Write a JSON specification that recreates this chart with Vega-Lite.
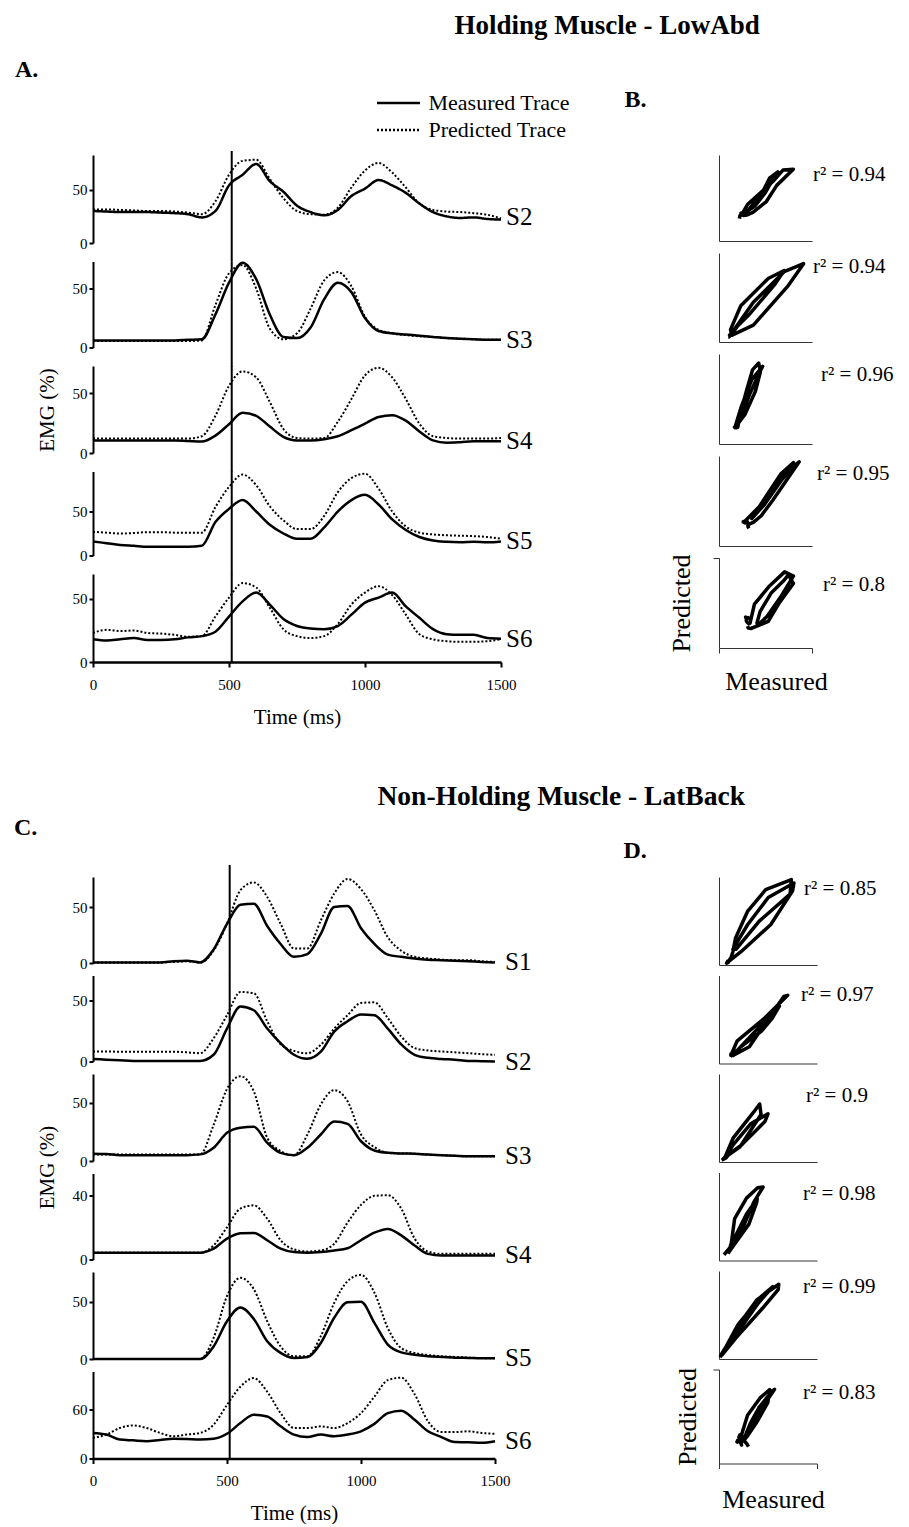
{
"$schema": "https://vega.github.io/schema/vega-lite/v6.json",
"background": "white",
"padding": {"left": 14, "top": 12, "right": 0, "bottom": 0},
"config": {
  "font": "Liberation Serif",
  "view": {"stroke": null},
  "axis": {"grid": false, "domainColor": "black", "tickColor": "black", "labelColor": "black", "titleColor": "black", "labelFontSize": 15, "titleFontSize": 21, "titleFontWeight": "normal", "domainWidth": 2, "tickWidth": 2, "tickSize": 4, "labelPadding": 2},
  "legend": {"labelFontSize": 22, "labelColor": "black", "symbolType": "M-2,0H2", "symbolSize": 462, "symbolStrokeWidth": 2.5, "symbolStrokeColor": "black", "rowPadding": 4, "labelOffset": 18, "padding": 0, "labelLimit": 400},
  "title": {"color": "black"},
  "text": {"color": "black"}
},
"datasets": {"tr": [
{"g":"A","s":"S2","t":0,"M":30,"P":31.5},{"g":"A","s":"S2","t":50,"M":29.5,"P":31.5},{"g":"A","s":"S2","t":100,"M":29,"P":31},{"g":"A","s":"S2","t":150,"M":29,"P":30.5},{"g":"A","s":"S2","t":200,"M":29,"P":30},{"g":"A","s":"S2","t":250,"M":28.5,"P":30},{"g":"A","s":"S2","t":300,"M":28,"P":29.5},{"g":"A","s":"S2","t":350,"M":27,"P":28.5},{"g":"A","s":"S2","t":400,"M":24,"P":27},{"g":"A","s":"S2","t":450,"M":30,"P":39},{"g":"A","s":"S2","t":500,"M":54,"P":64},{"g":"A","s":"S2","t":550,"M":64,"P":77},{"g":"A","s":"S2","t":600,"M":74,"P":78},{"g":"A","s":"S2","t":650,"M":58,"P":60},{"g":"A","s":"S2","t":700,"M":48,"P":42},{"g":"A","s":"S2","t":750,"M":35,"P":30},{"g":"A","s":"S2","t":800,"M":29,"P":27},{"g":"A","s":"S2","t":850,"M":26,"P":26.5},{"g":"A","s":"S2","t":900,"M":31,"P":33},{"g":"A","s":"S2","t":950,"M":44,"P":52},{"g":"A","s":"S2","t":1000,"M":51,"P":68},{"g":"A","s":"S2","t":1050,"M":59,"P":75},{"g":"A","s":"S2","t":1100,"M":54,"P":66},{"g":"A","s":"S2","t":1150,"M":47,"P":52},{"g":"A","s":"S2","t":1200,"M":37,"P":37},{"g":"A","s":"S2","t":1250,"M":29,"P":31},{"g":"A","s":"S2","t":1300,"M":25,"P":29.5},{"g":"A","s":"S2","t":1350,"M":23.5,"P":29},{"g":"A","s":"S2","t":1400,"M":24,"P":28},{"g":"A","s":"S2","t":1450,"M":22.5,"P":26.5},{"g":"A","s":"S2","t":1500,"M":22,"P":23},
{"g":"A","s":"S3","t":0,"M":6,"P":5.5},{"g":"A","s":"S3","t":50,"M":6,"P":5.5},{"g":"A","s":"S3","t":100,"M":6,"P":5.5},{"g":"A","s":"S3","t":150,"M":6,"P":5.5},{"g":"A","s":"S3","t":200,"M":6,"P":5.5},{"g":"A","s":"S3","t":250,"M":6,"P":5.5},{"g":"A","s":"S3","t":300,"M":6,"P":5.5},{"g":"A","s":"S3","t":350,"M":6.5,"P":5.5},{"g":"A","s":"S3","t":400,"M":7,"P":6},{"g":"A","s":"S3","t":450,"M":28,"P":36},{"g":"A","s":"S3","t":500,"M":55,"P":63},{"g":"A","s":"S3","t":550,"M":72,"P":70},{"g":"A","s":"S3","t":600,"M":58,"P":50},{"g":"A","s":"S3","t":650,"M":28,"P":16},{"g":"A","s":"S3","t":700,"M":9,"P":7},{"g":"A","s":"S3","t":750,"M":8,"P":12},{"g":"A","s":"S3","t":800,"M":17,"P":33},{"g":"A","s":"S3","t":850,"M":41,"P":57},{"g":"A","s":"S3","t":900,"M":55,"P":64},{"g":"A","s":"S3","t":950,"M":47,"P":52},{"g":"A","s":"S3","t":1000,"M":25,"P":26},{"g":"A","s":"S3","t":1050,"M":14,"P":15},{"g":"A","s":"S3","t":1100,"M":12,"P":12},{"g":"A","s":"S3","t":1150,"M":11,"P":10.5},{"g":"A","s":"S3","t":1200,"M":10,"P":9.5},{"g":"A","s":"S3","t":1250,"M":9,"P":9},{"g":"A","s":"S3","t":1300,"M":8,"P":8},{"g":"A","s":"S3","t":1350,"M":7.5,"P":7.5},{"g":"A","s":"S3","t":1400,"M":7,"P":7},{"g":"A","s":"S3","t":1450,"M":6.5,"P":6.5},{"g":"A","s":"S3","t":1500,"M":6.5,"P":6.5},
{"g":"A","s":"S4","t":0,"M":10.5,"P":12},{"g":"A","s":"S4","t":50,"M":10.5,"P":12},{"g":"A","s":"S4","t":100,"M":10.5,"P":12},{"g":"A","s":"S4","t":150,"M":10.5,"P":12},{"g":"A","s":"S4","t":200,"M":10.5,"P":12},{"g":"A","s":"S4","t":250,"M":10.5,"P":12},{"g":"A","s":"S4","t":300,"M":10.5,"P":12},{"g":"A","s":"S4","t":350,"M":10,"P":12},{"g":"A","s":"S4","t":400,"M":9.5,"P":14},{"g":"A","s":"S4","t":450,"M":14.5,"P":31},{"g":"A","s":"S4","t":500,"M":24,"P":56},{"g":"A","s":"S4","t":550,"M":33.5,"P":68},{"g":"A","s":"S4","t":600,"M":31,"P":63},{"g":"A","s":"S4","t":650,"M":22,"P":42.5},{"g":"A","s":"S4","t":700,"M":13.5,"P":20},{"g":"A","s":"S4","t":750,"M":10.5,"P":12.5},{"g":"A","s":"S4","t":800,"M":10.5,"P":12},{"g":"A","s":"S4","t":850,"M":11.5,"P":12.5},{"g":"A","s":"S4","t":900,"M":14,"P":26},{"g":"A","s":"S4","t":950,"M":19,"P":45},{"g":"A","s":"S4","t":1000,"M":24.5,"P":64.7},{"g":"A","s":"S4","t":1050,"M":30,"P":71},{"g":"A","s":"S4","t":1100,"M":31.5,"P":63},{"g":"A","s":"S4","t":1150,"M":27,"P":45},{"g":"A","s":"S4","t":1200,"M":18,"P":24.4},{"g":"A","s":"S4","t":1250,"M":10.5,"P":14},{"g":"A","s":"S4","t":1300,"M":8.6,"P":12.5},{"g":"A","s":"S4","t":1350,"M":9,"P":12},{"g":"A","s":"S4","t":1400,"M":9.7,"P":12},{"g":"A","s":"S4","t":1450,"M":9.7,"P":12},{"g":"A","s":"S4","t":1500,"M":9.7,"P":12.5},
{"g":"A","s":"S5","t":0,"M":16,"P":27},{"g":"A","s":"S5","t":50,"M":14,"P":26},{"g":"A","s":"S5","t":100,"M":12,"P":25},{"g":"A","s":"S5","t":150,"M":11,"P":25.5},{"g":"A","s":"S5","t":200,"M":10,"P":26.5},{"g":"A","s":"S5","t":250,"M":10,"P":26.5},{"g":"A","s":"S5","t":300,"M":10,"P":26},{"g":"A","s":"S5","t":350,"M":10,"P":26},{"g":"A","s":"S5","t":400,"M":11,"P":26},{"g":"A","s":"S5","t":450,"M":38,"P":55},{"g":"A","s":"S5","t":500,"M":53,"P":78},{"g":"A","s":"S5","t":550,"M":63,"P":92},{"g":"A","s":"S5","t":600,"M":50,"P":80},{"g":"A","s":"S5","t":650,"M":35,"P":56},{"g":"A","s":"S5","t":700,"M":25,"P":40},{"g":"A","s":"S5","t":750,"M":19,"P":30},{"g":"A","s":"S5","t":800,"M":19,"P":30},{"g":"A","s":"S5","t":850,"M":32,"P":45},{"g":"A","s":"S5","t":900,"M":50,"P":72},{"g":"A","s":"S5","t":950,"M":63,"P":88},{"g":"A","s":"S5","t":1000,"M":69,"P":93},{"g":"A","s":"S5","t":1050,"M":58,"P":76},{"g":"A","s":"S5","t":1100,"M":41,"P":50},{"g":"A","s":"S5","t":1150,"M":29,"P":33},{"g":"A","s":"S5","t":1200,"M":21,"P":26},{"g":"A","s":"S5","t":1250,"M":17,"P":24},{"g":"A","s":"S5","t":1300,"M":15.5,"P":23},{"g":"A","s":"S5","t":1350,"M":15,"P":22.5},{"g":"A","s":"S5","t":1400,"M":15.5,"P":22},{"g":"A","s":"S5","t":1450,"M":15,"P":21},{"g":"A","s":"S5","t":1500,"M":16,"P":19},
{"g":"A","s":"S6","t":0,"M":18,"P":23},{"g":"A","s":"S6","t":50,"M":17,"P":25.5},{"g":"A","s":"S6","t":100,"M":18,"P":24.5},{"g":"A","s":"S6","t":150,"M":19,"P":25},{"g":"A","s":"S6","t":200,"M":17.5,"P":23},{"g":"A","s":"S6","t":250,"M":17.5,"P":22.5},{"g":"A","s":"S6","t":300,"M":18,"P":21.5},{"g":"A","s":"S6","t":350,"M":19.5,"P":20},{"g":"A","s":"S6","t":400,"M":20.5,"P":20.5},{"g":"A","s":"S6","t":450,"M":24,"P":36},{"g":"A","s":"S6","t":500,"M":36,"P":51},{"g":"A","s":"S6","t":550,"M":48,"P":62.5},{"g":"A","s":"S6","t":600,"M":55,"P":59},{"g":"A","s":"S6","t":650,"M":45.5,"P":43},{"g":"A","s":"S6","t":700,"M":34,"P":26},{"g":"A","s":"S6","t":750,"M":28.5,"P":20.5},{"g":"A","s":"S6","t":800,"M":26.5,"P":19},{"g":"A","s":"S6","t":850,"M":26,"P":20.5},{"g":"A","s":"S6","t":900,"M":28.5,"P":30},{"g":"A","s":"S6","t":950,"M":37.5,"P":45.5},{"g":"A","s":"S6","t":1000,"M":47,"P":55},{"g":"A","s":"S6","t":1050,"M":51,"P":60},{"g":"A","s":"S6","t":1100,"M":55,"P":53},{"g":"A","s":"S6","t":1150,"M":44,"P":37.5},{"g":"A","s":"S6","t":1200,"M":35,"P":22},{"g":"A","s":"S6","t":1250,"M":26,"P":18},{"g":"A","s":"S6","t":1300,"M":22,"P":16.5},{"g":"A","s":"S6","t":1350,"M":21.5,"P":16},{"g":"A","s":"S6","t":1400,"M":21.5,"P":16},{"g":"A","s":"S6","t":1450,"M":19,"P":16.5},{"g":"A","s":"S6","t":1500,"M":18.5,"P":18},
{"g":"C","s":"S1","t":0,"M":0.5,"P":0.5},{"g":"C","s":"S1","t":50,"M":0.5,"P":0.5},{"g":"C","s":"S1","t":100,"M":0.5,"P":0.5},{"g":"C","s":"S1","t":150,"M":0.5,"P":0.5},{"g":"C","s":"S1","t":200,"M":0.5,"P":0.5},{"g":"C","s":"S1","t":250,"M":0.5,"P":0.5},{"g":"C","s":"S1","t":300,"M":1.5,"P":1},{"g":"C","s":"S1","t":350,"M":2,"P":1.5},{"g":"C","s":"S1","t":400,"M":0.5,"P":0.5},{"g":"C","s":"S1","t":450,"M":12,"P":11},{"g":"C","s":"S1","t":500,"M":35,"P":35},{"g":"C","s":"S1","t":550,"M":52,"P":65},{"g":"C","s":"S1","t":600,"M":53,"P":72},{"g":"C","s":"S1","t":650,"M":33,"P":59},{"g":"C","s":"S1","t":700,"M":17,"P":35},{"g":"C","s":"S1","t":750,"M":5.5,"P":13},{"g":"C","s":"S1","t":800,"M":8,"P":13},{"g":"C","s":"S1","t":850,"M":26,"P":38},{"g":"C","s":"S1","t":900,"M":50,"P":62},{"g":"C","s":"S1","t":950,"M":51,"P":75},{"g":"C","s":"S1","t":1000,"M":31,"P":66},{"g":"C","s":"S1","t":1050,"M":17,"P":47},{"g":"C","s":"S1","t":1100,"M":7.5,"P":23},{"g":"C","s":"S1","t":1150,"M":5.5,"P":11},{"g":"C","s":"S1","t":1200,"M":4,"P":5.5},{"g":"C","s":"S1","t":1250,"M":3,"P":4},{"g":"C","s":"S1","t":1300,"M":2.5,"P":3},{"g":"C","s":"S1","t":1350,"M":2,"P":2.5},{"g":"C","s":"S1","t":1400,"M":1.5,"P":2.5},{"g":"C","s":"S1","t":1450,"M":1,"P":1.5},{"g":"C","s":"S1","t":1500,"M":0.5,"P":1},
{"g":"C","s":"S2","t":0,"M":2,"P":8.2},{"g":"C","s":"S2","t":50,"M":1.5,"P":8.2},{"g":"C","s":"S2","t":100,"M":1,"P":8},{"g":"C","s":"S2","t":150,"M":0.5,"P":8},{"g":"C","s":"S2","t":200,"M":0.5,"P":8},{"g":"C","s":"S2","t":250,"M":0.5,"P":8},{"g":"C","s":"S2","t":300,"M":0.5,"P":8},{"g":"C","s":"S2","t":350,"M":0.5,"P":7.5},{"g":"C","s":"S2","t":400,"M":0.5,"P":6.8},{"g":"C","s":"S2","t":450,"M":5.5,"P":19},{"g":"C","s":"S2","t":500,"M":27,"P":38},{"g":"C","s":"S2","t":550,"M":45,"P":57},{"g":"C","s":"S2","t":600,"M":42,"P":56},{"g":"C","s":"S2","t":650,"M":27,"P":33},{"g":"C","s":"S2","t":700,"M":15,"P":14},{"g":"C","s":"S2","t":750,"M":5.5,"P":8.7},{"g":"C","s":"S2","t":800,"M":2.2,"P":6.8},{"g":"C","s":"S2","t":850,"M":8,"P":13.7},{"g":"C","s":"S2","t":900,"M":24.5,"P":27},{"g":"C","s":"S2","t":950,"M":33,"P":38},{"g":"C","s":"S2","t":1000,"M":38.5,"P":48},{"g":"C","s":"S2","t":1050,"M":38,"P":48.5},{"g":"C","s":"S2","t":1100,"M":27,"P":35.5},{"g":"C","s":"S2","t":1150,"M":14,"P":20.5},{"g":"C","s":"S2","t":1200,"M":5.5,"P":11},{"g":"C","s":"S2","t":1250,"M":3,"P":9},{"g":"C","s":"S2","t":1300,"M":2,"P":8.2},{"g":"C","s":"S2","t":1350,"M":1.5,"P":7.5},{"g":"C","s":"S2","t":1400,"M":0.5,"P":6.8},{"g":"C","s":"S2","t":1450,"M":0.3,"P":6},{"g":"C","s":"S2","t":1500,"M":0,"P":5.5},
{"g":"C","s":"S3","t":0,"M":6.3,"P":5.7},{"g":"C","s":"S3","t":50,"M":6,"P":5.7},{"g":"C","s":"S3","t":100,"M":5,"P":5.7},{"g":"C","s":"S3","t":150,"M":5,"P":5.7},{"g":"C","s":"S3","t":200,"M":5,"P":5.7},{"g":"C","s":"S3","t":250,"M":5,"P":5.7},{"g":"C","s":"S3","t":300,"M":5,"P":5.7},{"g":"C","s":"S3","t":350,"M":5,"P":5.7},{"g":"C","s":"S3","t":400,"M":5.7,"P":5.7},{"g":"C","s":"S3","t":450,"M":11.4,"P":31},{"g":"C","s":"S3","t":500,"M":24.3,"P":62},{"g":"C","s":"S3","t":550,"M":28.6,"P":73},{"g":"C","s":"S3","t":600,"M":29.5,"P":60},{"g":"C","s":"S3","t":650,"M":15.7,"P":20},{"g":"C","s":"S3","t":700,"M":7,"P":8.6},{"g":"C","s":"S3","t":750,"M":5,"P":5},{"g":"C","s":"S3","t":800,"M":11.4,"P":22.8},{"g":"C","s":"S3","t":850,"M":22.8,"P":48.6},{"g":"C","s":"S3","t":900,"M":34,"P":61},{"g":"C","s":"S3","t":950,"M":32,"P":51.4},{"g":"C","s":"S3","t":1000,"M":17,"P":22.8},{"g":"C","s":"S3","t":1050,"M":9,"P":12},{"g":"C","s":"S3","t":1100,"M":7,"P":7},{"g":"C","s":"S3","t":1150,"M":6.5,"P":6.5},{"g":"C","s":"S3","t":1200,"M":6.3,"P":6.3},{"g":"C","s":"S3","t":1250,"M":5.5,"P":5.5},{"g":"C","s":"S3","t":1300,"M":5,"P":5},{"g":"C","s":"S3","t":1350,"M":4.5,"P":4.5},{"g":"C","s":"S3","t":1400,"M":4,"P":4},{"g":"C","s":"S3","t":1450,"M":4,"P":4},{"g":"C","s":"S3","t":1500,"M":4,"P":4},
{"g":"C","s":"S4","t":0,"M":4.2,"P":4.2},{"g":"C","s":"S4","t":50,"M":4.2,"P":4.2},{"g":"C","s":"S4","t":100,"M":4.2,"P":4.2},{"g":"C","s":"S4","t":150,"M":4.2,"P":4.2},{"g":"C","s":"S4","t":200,"M":4.2,"P":4.2},{"g":"C","s":"S4","t":250,"M":4.2,"P":4.2},{"g":"C","s":"S4","t":300,"M":4.2,"P":4.2},{"g":"C","s":"S4","t":350,"M":4.2,"P":4.2},{"g":"C","s":"S4","t":400,"M":4.2,"P":4.2},{"g":"C","s":"S4","t":450,"M":6.7,"P":8.75},{"g":"C","s":"S4","t":500,"M":13,"P":20},{"g":"C","s":"S4","t":550,"M":16.3,"P":31.7},{"g":"C","s":"S4","t":600,"M":16.5,"P":33.7},{"g":"C","s":"S4","t":650,"M":12,"P":25.4},{"g":"C","s":"S4","t":700,"M":6.7,"P":12},{"g":"C","s":"S4","t":750,"M":4.6,"P":6.25},{"g":"C","s":"S4","t":800,"M":4.2,"P":5},{"g":"C","s":"S4","t":850,"M":4.6,"P":5.6},{"g":"C","s":"S4","t":900,"M":5.6,"P":9.8},{"g":"C","s":"S4","t":950,"M":7,"P":23},{"g":"C","s":"S4","t":1000,"M":12,"P":34},{"g":"C","s":"S4","t":1050,"M":16.7,"P":39.6},{"g":"C","s":"S4","t":1100,"M":19,"P":40},{"g":"C","s":"S4","t":1150,"M":15,"P":31.7},{"g":"C","s":"S4","t":1200,"M":8.75,"P":13},{"g":"C","s":"S4","t":1250,"M":3.5,"P":5},{"g":"C","s":"S4","t":1300,"M":2.5,"P":3.5},{"g":"C","s":"S4","t":1350,"M":2.5,"P":3.5},{"g":"C","s":"S4","t":1400,"M":2.5,"P":3.5},{"g":"C","s":"S4","t":1450,"M":2.5,"P":3.5},{"g":"C","s":"S4","t":1500,"M":2.5,"P":3.5},
{"g":"C","s":"S5","t":0,"M":0,"P":0},{"g":"C","s":"S5","t":50,"M":0,"P":0},{"g":"C","s":"S5","t":100,"M":0,"P":0},{"g":"C","s":"S5","t":150,"M":0,"P":0},{"g":"C","s":"S5","t":200,"M":0,"P":0},{"g":"C","s":"S5","t":250,"M":0,"P":0},{"g":"C","s":"S5","t":300,"M":0,"P":0},{"g":"C","s":"S5","t":350,"M":0,"P":0},{"g":"C","s":"S5","t":400,"M":0,"P":0},{"g":"C","s":"S5","t":450,"M":11,"P":18.4},{"g":"C","s":"S5","t":500,"M":33,"P":55},{"g":"C","s":"S5","t":550,"M":45,"P":71},{"g":"C","s":"S5","t":600,"M":35,"P":61},{"g":"C","s":"S5","t":650,"M":15.5,"P":33},{"g":"C","s":"S5","t":700,"M":5.3,"P":11},{"g":"C","s":"S5","t":750,"M":0.9,"P":2.3},{"g":"C","s":"S5","t":800,"M":1.8,"P":2.3},{"g":"C","s":"S5","t":850,"M":14,"P":20},{"g":"C","s":"S5","t":900,"M":36,"P":49},{"g":"C","s":"S5","t":950,"M":49.5,"P":68},{"g":"C","s":"S5","t":1000,"M":50,"P":73.5},{"g":"C","s":"S5","t":1050,"M":31.6,"P":58},{"g":"C","s":"S5","t":1100,"M":12.6,"P":27},{"g":"C","s":"S5","t":1150,"M":5.8,"P":9.6},{"g":"C","s":"S5","t":1200,"M":3.8,"P":5.3},{"g":"C","s":"S5","t":1250,"M":2.5,"P":3.5},{"g":"C","s":"S5","t":1300,"M":1.8,"P":2.3},{"g":"C","s":"S5","t":1350,"M":1.2,"P":1.8},{"g":"C","s":"S5","t":1400,"M":0.9,"P":1.2},{"g":"C","s":"S5","t":1450,"M":0.6,"P":0.8},{"g":"C","s":"S5","t":1500,"M":0.6,"P":0.6},
{"g":"C","s":"S6","t":0,"M":31,"P":25},{"g":"C","s":"S6","t":50,"M":29,"P":29},{"g":"C","s":"S6","t":100,"M":23,"P":37},{"g":"C","s":"S6","t":150,"M":22,"P":40},{"g":"C","s":"S6","t":200,"M":21,"P":37},{"g":"C","s":"S6","t":250,"M":22.5,"P":31},{"g":"C","s":"S6","t":300,"M":23.8,"P":27},{"g":"C","s":"S6","t":350,"M":23.5,"P":29},{"g":"C","s":"S6","t":400,"M":23,"P":31},{"g":"C","s":"S6","t":450,"M":24,"P":41},{"g":"C","s":"S6","t":500,"M":30,"P":65},{"g":"C","s":"S6","t":550,"M":43,"P":87},{"g":"C","s":"S6","t":600,"M":53,"P":97.5},{"g":"C","s":"S6","t":650,"M":51,"P":81},{"g":"C","s":"S6","t":700,"M":39,"P":55},{"g":"C","s":"S6","t":750,"M":29,"P":37},{"g":"C","s":"S6","t":800,"M":26,"P":37},{"g":"C","s":"S6","t":850,"M":29,"P":39},{"g":"C","s":"S6","t":900,"M":27,"P":37},{"g":"C","s":"S6","t":950,"M":29,"P":43},{"g":"C","s":"S6","t":1000,"M":33,"P":55},{"g":"C","s":"S6","t":1050,"M":42,"P":75},{"g":"C","s":"S6","t":1100,"M":55,"P":95},{"g":"C","s":"S6","t":1150,"M":58,"P":98},{"g":"C","s":"S6","t":1200,"M":47,"P":78},{"g":"C","s":"S6","t":1250,"M":33,"P":45},{"g":"C","s":"S6","t":1300,"M":26,"P":32},{"g":"C","s":"S6","t":1350,"M":20,"P":32},{"g":"C","s":"S6","t":1400,"M":19.7,"P":33},{"g":"C","s":"S6","t":1450,"M":19,"P":31},{"g":"C","s":"S6","t":1500,"M":21,"P":30}
]},
"spacing": 55,
"vconcat": [
{
 "title": {"text": "Holding Muscle - LowAbd", "fontSize": 27, "fontWeight": "bold", "anchor": "middle", "dx": 153, "offset": 18, "frame": "bounds"},
 "spacing": 91,
 "resolve": {"scale": {"x": "independent", "y": "independent"}, "axis": {"x": "independent", "y": "independent"}},
 "hconcat": [
  {
   "title": {"text": "A.", "fontSize": 24, "fontWeight": "bold", "anchor": "start", "dx": -21, "offset": 68, "frame": "bounds"},
   "bounds": "flush",
   "spacing": 18.5,
   "resolve": {"scale": {"x": "independent", "y": "independent"}, "axis": {"x": "independent", "y": "independent"}},
   "vconcat": [
    {"width": 408, "height": 88, "data": {"name": "tr"}, "transform": [{"filter": "datum.g=='A'&&datum.s=='S2'"}],
     "layer": [
      {"mark": {"type": "line", "interpolate": "monotone", "color": "black", "strokeWidth": 2.5},
       "encoding": {"x": {"field": "t", "type": "quantitative", "scale": {"domain": [0, 1500], "nice": false}, "axis": null},
        "y": {"field": "M", "type": "quantitative", "scale": {"domain": [0, 82.5], "nice": false}, "axis": {"values": [0, 50], "title": null}},
        "strokeDash": {"datum": "Measured Trace", "type": "nominal", "scale": {"domain": ["Measured Trace", "Predicted Trace"], "range": [[1, 0], [2, 2]]}, "legend": {"orient": "none", "legendX": 293.5, "legendY": -64, "title": null}}}},
      {"mark": {"type": "line", "interpolate": "monotone", "color": "black", "strokeWidth": 2},
       "encoding": {"x": {"field": "t", "type": "quantitative", "axis": null}, "y": {"field": "P", "type": "quantitative"},
        "strokeDash": {"datum": "Predicted Trace", "type": "nominal"}}},
      {"data": {"values": [{}]}, "mark": {"type": "rule", "color": "black", "strokeWidth": 2},
       "encoding": {"x": {"datum": 510, "axis": null}, "y": {"datum": 86.25}, "y2": {"datum": -17.5}}},
      {"transform": [{"filter": "datum.t==1500"}], "mark": {"type": "text", "align": "left", "baseline": "middle", "dx": 5, "dy": -3, "fontSize": 25},
       "encoding": {"x": {"field": "t", "type": "quantitative", "axis": null}, "y": {"field": "M", "type": "quantitative"}, "text": {"field": "s"}}}
     ]},
    {"width": 408, "height": 86, "data": {"name": "tr"}, "transform": [{"filter": "datum.g=='A'&&datum.s=='S3'"}],
     "layer": [
      {"mark": {"type": "line", "interpolate": "monotone", "color": "black", "strokeWidth": 2.5},
       "encoding": {"x": {"field": "t", "type": "quantitative", "scale": {"domain": [0, 1500], "nice": false}, "axis": null},
        "y": {"field": "M", "type": "quantitative", "scale": {"domain": [0, 73], "nice": false}, "axis": {"values": [0, 50], "title": null}}}},
      {"mark": {"type": "line", "interpolate": "monotone", "color": "black", "strokeWidth": 2, "strokeDash": [2, 2]},
       "encoding": {"x": {"field": "t", "type": "quantitative", "axis": null}, "y": {"field": "P", "type": "quantitative"}}},
      {"data": {"values": [{}]}, "mark": {"type": "rule", "color": "black", "strokeWidth": 2},
       "encoding": {"x": {"datum": 510, "axis": null}, "y": {"datum": 73}, "y2": {"datum": -16.2}}},
      {"transform": [{"filter": "datum.t==1500"}], "mark": {"type": "text", "align": "left", "baseline": "middle", "dx": 5, "fontSize": 25},
       "encoding": {"x": {"field": "t", "type": "quantitative", "axis": null}, "y": {"field": "M", "type": "quantitative"}, "text": {"field": "s"}}}
     ]},
    {"width": 408, "height": 87, "data": {"name": "tr"}, "transform": [{"filter": "datum.g=='A'&&datum.s=='S4'"}],
     "layer": [
      {"mark": {"type": "line", "interpolate": "monotone", "color": "black", "strokeWidth": 2.5},
       "encoding": {"x": {"field": "t", "type": "quantitative", "scale": {"domain": [0, 1500], "nice": false}, "axis": null},
        "y": {"field": "M", "type": "quantitative", "scale": {"domain": [0, 72.5], "nice": false}, "axis": {"values": [0, 50], "title": "EMG (%)", "titlePadding": 15}}}},
      {"mark": {"type": "line", "interpolate": "monotone", "color": "black", "strokeWidth": 2, "strokeDash": [2, 2]},
       "encoding": {"x": {"field": "t", "type": "quantitative", "axis": null}, "y": {"field": "P", "type": "quantitative"}}},
      {"data": {"values": [{}]}, "mark": {"type": "rule", "color": "black", "strokeWidth": 2},
       "encoding": {"x": {"datum": 510, "axis": null}, "y": {"datum": 72.5}, "y2": {"datum": -15.8}}},
      {"transform": [{"filter": "datum.t==1500"}], "mark": {"type": "text", "align": "left", "baseline": "middle", "dx": 5, "fontSize": 25},
       "encoding": {"x": {"field": "t", "type": "quantitative", "axis": null}, "y": {"field": "M", "type": "quantitative"}, "text": {"field": "s"}}}
     ]},
    {"width": 408, "height": 84, "data": {"name": "tr"}, "transform": [{"filter": "datum.g=='A'&&datum.s=='S5'"}],
     "layer": [
      {"mark": {"type": "line", "interpolate": "monotone", "color": "black", "strokeWidth": 2.5},
       "encoding": {"x": {"field": "t", "type": "quantitative", "scale": {"domain": [0, 1500], "nice": false}, "axis": null},
        "y": {"field": "M", "type": "quantitative", "scale": {"domain": [0, 95.5], "nice": false}, "axis": {"values": [0, 50], "title": null}}}},
      {"mark": {"type": "line", "interpolate": "monotone", "color": "black", "strokeWidth": 2, "strokeDash": [2, 2]},
       "encoding": {"x": {"field": "t", "type": "quantitative", "axis": null}, "y": {"field": "P", "type": "quantitative"}}},
      {"data": {"values": [{}]}, "mark": {"type": "rule", "color": "black", "strokeWidth": 2},
       "encoding": {"x": {"datum": 510, "axis": null}, "y": {"datum": 95.5}, "y2": {"datum": -21.5}}},
      {"transform": [{"filter": "datum.t==1500"}], "mark": {"type": "text", "align": "left", "baseline": "middle", "dx": 5, "fontSize": 25},
       "encoding": {"x": {"field": "t", "type": "quantitative", "axis": null}, "y": {"field": "M", "type": "quantitative"}, "text": {"field": "s"}}}
     ]},
    {"width": 408, "height": 88, "data": {"name": "tr"}, "transform": [{"filter": "datum.g=='A'&&datum.s=='S6'"}],
     "layer": [
      {"mark": {"type": "line", "interpolate": "monotone", "color": "black", "strokeWidth": 2.5},
       "encoding": {"x": {"field": "t", "type": "quantitative", "scale": {"domain": [0, 1500], "nice": false}, "axis": {"values": [0, 500, 1000, 1500], "format": "d", "title": "Time (ms)", "tickSize": 5, "labelPadding": 10, "titlePadding": 14, "labelFlush": false, "domainWidth": 2.5}},
        "y": {"field": "M", "type": "quantitative", "scale": {"domain": [0, 69.7], "nice": false}, "axis": {"values": [0, 50], "title": null}}}},
      {"mark": {"type": "line", "interpolate": "monotone", "color": "black", "strokeWidth": 2, "strokeDash": [2, 2]},
       "encoding": {"x": {"field": "t", "type": "quantitative"}, "y": {"field": "P", "type": "quantitative"}}},
      {"data": {"values": [{}]}, "mark": {"type": "rule", "color": "black", "strokeWidth": 2},
       "encoding": {"x": {"datum": 510}, "y": {"datum": 69.7}, "y2": {"datum": 0}}},
      {"transform": [{"filter": "datum.t==1500"}], "mark": {"type": "text", "align": "left", "baseline": "middle", "dx": 5, "fontSize": 25},
       "encoding": {"x": {"field": "t", "type": "quantitative"}, "y": {"field": "M", "type": "quantitative"}, "text": {"field": "s"}}}
     ]}
   ]
  },
  {
   "title": {"text": "B.", "fontSize": 24, "fontWeight": "bold", "anchor": "start", "dx": -44, "offset": 43, "frame": "bounds"},
   "bounds": "flush",
   "spacing": 12,
   "resolve": {"scale": {"x": "independent", "y": "independent"}, "axis": {"x": "independent", "y": "independent"}},
   "vconcat": [
    {"width": 93, "height": 86, "layer": [
      {"data": {"name": "tr"}, "transform": [{"filter": "datum.g=='A'&&datum.s=='S2'"}], "mark": {"type": "line", "color": "black", "strokeWidth": 3.5, "strokeJoin": "round"},
       "encoding": {"x": {"field": "M", "type": "quantitative", "scale": {"domain": [2.3, 92], "nice": false, "zero": false}, "axis": {"title": null, "ticks": false, "labels": false, "domainWidth": 1, "domainColor": "#333"}},
        "y": {"field": "P", "type": "quantitative", "scale": {"domain": [-1.9, 93.8], "nice": false, "zero": false}, "axis": {"title": null, "ticks": false, "labels": false, "domainWidth": 1, "domainColor": "#333"}},
        "order": {"field": "t", "type": "quantitative"}}},
      {"data": {"values": [{"r": "r² = 0.94"}]}, "mark": {"type": "text", "align": "left", "baseline": "middle", "dx": 1, "fontSize": 21},
       "encoding": {"x": {"datum": 92}, "y": {"datum": 71.5}, "text": {"field": "r"}}}
    ]},
    {"width": 93, "height": 89, "layer": [
      {"data": {"name": "tr"}, "transform": [{"filter": "datum.g=='A'&&datum.s=='S3'"}], "mark": {"type": "line", "color": "black", "strokeWidth": 3.5, "strokeJoin": "round"},
       "encoding": {"x": {"field": "M", "type": "quantitative", "scale": {"domain": [-2.1, 79.4], "nice": false, "zero": false}, "axis": {"title": null, "ticks": false, "labels": false, "domainWidth": 1, "domainColor": "#333"}},
        "y": {"field": "P", "type": "quantitative", "scale": {"domain": [1.1, 79.4], "nice": false, "zero": false}, "axis": {"title": null, "ticks": false, "labels": false, "domainWidth": 1, "domainColor": "#333"}},
        "order": {"field": "t", "type": "quantitative"}}},
      {"data": {"values": [{"r": "r² = 0.94"}]}, "mark": {"type": "text", "align": "left", "baseline": "middle", "dx": 1, "fontSize": 21},
       "encoding": {"x": {"datum": 79.4}, "y": {"datum": 67.1}, "text": {"field": "r"}}}
    ]},
    {"width": 93, "height": 90, "layer": [
      {"data": {"name": "tr"}, "transform": [{"filter": "datum.g=='A'&&datum.s=='S4'"}], "mark": {"type": "line", "color": "black", "strokeWidth": 3.5, "strokeJoin": "round"},
       "encoding": {"x": {"field": "M", "type": "quantitative", "scale": {"domain": [-5.1, 77.1], "nice": false, "zero": false}, "axis": {"title": null, "ticks": false, "labels": false, "domainWidth": 1, "domainColor": "#333"}},
        "y": {"field": "P", "type": "quantitative", "scale": {"domain": [-2.8, 79.2], "nice": false, "zero": false}, "axis": {"title": null, "ticks": false, "labels": false, "domainWidth": 1, "domainColor": "#333"}},
        "order": {"field": "t", "type": "quantitative"}}},
      {"data": {"values": [{"r": "r² = 0.96"}]}, "mark": {"type": "text", "align": "left", "baseline": "middle", "dx": 9, "fontSize": 21},
       "encoding": {"x": {"datum": 77.1}, "y": {"datum": 60.3}, "text": {"field": "r"}}}
    ]},
    {"width": 93, "height": 90, "layer": [
      {"data": {"name": "tr"}, "transform": [{"filter": "datum.g=='A'&&datum.s=='S5'"}], "mark": {"type": "line", "color": "black", "strokeWidth": 3.5, "strokeJoin": "round"},
       "encoding": {"x": {"field": "M", "type": "quantitative", "scale": {"domain": [-15.5, 82.5], "nice": false, "zero": false}, "axis": {"title": null, "ticks": false, "labels": false, "domainWidth": 1, "domainColor": "#333"}},
        "y": {"field": "P", "type": "quantitative", "scale": {"domain": [-0.6, 99.4], "nice": false, "zero": false}, "axis": {"title": null, "ticks": false, "labels": false, "domainWidth": 1, "domainColor": "#333"}},
        "order": {"field": "t", "type": "quantitative"}}},
      {"data": {"values": [{"r": "r² = 0.95"}]}, "mark": {"type": "text", "align": "left", "baseline": "middle", "dx": 5, "fontSize": 21},
       "encoding": {"x": {"datum": 82.5}, "y": {"datum": 79.1}, "text": {"field": "r"}}}
    ]},
    {"width": 93, "height": 90, "layer": [
      {"data": {"name": "tr"}, "transform": [{"filter": "datum.g=='A'&&datum.s=='S6'"}], "mark": {"type": "line", "color": "black", "strokeWidth": 3.5, "strokeJoin": "round"},
       "encoding": {"x": {"field": "M", "type": "quantitative", "scale": {"domain": [-4.2, 69.8], "nice": false, "zero": false}, "axis": {"title": "Measured", "values": [-4.2, 69.8], "ticks": true, "tickSize": 5, "tickWidth": 1, "labels": false, "titleFontSize": 26, "titlePadding": 15, "titleX": 57, "domainWidth": 1, "domainColor": "#333", "tickColor": "#333"}},
        "y": {"field": "P", "type": "quantitative", "scale": {"domain": [0.1, 73.9], "nice": false, "zero": false}, "axis": {"title": "Predicted", "values": [73.9], "ticks": true, "tickSize": 6, "tickWidth": 1, "labels": false, "titleFontSize": 26, "titlePadding": 18, "domainWidth": 1, "domainColor": "#333", "tickColor": "#333"}},
        "order": {"field": "t", "type": "quantitative"}}},
      {"data": {"values": [{"r": "r² = 0.8"}]}, "mark": {"type": "text", "align": "left", "baseline": "middle", "dx": 11, "fontSize": 21},
       "encoding": {"x": {"datum": 69.8}, "y": {"datum": 51.4}, "text": {"field": "r"}}}
    ]}
   ]
  }
 ]
},
{
 "title": {"text": "Non-Holding Muscle - LatBack", "fontSize": 27.5, "fontWeight": "bold", "anchor": "middle", "dx": 116, "offset": 6, "frame": "bounds"},
 "spacing": 91,
 "resolve": {"scale": {"x": "independent", "y": "independent"}, "axis": {"x": "independent", "y": "independent"}},
 "hconcat": [
  {
   "title": {"text": "C.", "fontSize": 24, "fontWeight": "bold", "anchor": "start", "dx": -22, "offset": 24, "frame": "bounds"},
   "bounds": "flush",
   "spacing": 12.5,
   "resolve": {"scale": {"x": "independent", "y": "independent"}, "axis": {"x": "independent", "y": "independent"}},
   "vconcat": [
    {"width": 402, "height": 86, "data": {"name": "tr"}, "transform": [{"filter": "datum.g=='C'&&datum.s=='S1'"}],
     "layer": [
      {"mark": {"type": "line", "interpolate": "monotone", "color": "black", "strokeWidth": 2.5},
       "encoding": {"x": {"field": "t", "type": "quantitative", "scale": {"domain": [0, 1500], "nice": false}, "axis": null},
        "y": {"field": "M", "type": "quantitative", "scale": {"domain": [0, 76.8], "nice": false}, "axis": {"values": [0, 50], "title": null}}}},
      {"mark": {"type": "line", "interpolate": "monotone", "color": "black", "strokeWidth": 2, "strokeDash": [2, 2]},
       "encoding": {"x": {"field": "t", "type": "quantitative", "axis": null}, "y": {"field": "P", "type": "quantitative"}}},
      {"data": {"values": [{}]}, "mark": {"type": "rule", "color": "black", "strokeWidth": 2},
       "encoding": {"x": {"datum": 510, "axis": null}, "y": {"datum": 87.5}, "y2": {"datum": -11.5}}},
      {"transform": [{"filter": "datum.t==1500"}], "mark": {"type": "text", "align": "left", "baseline": "middle", "dx": 10, "fontSize": 25},
       "encoding": {"x": {"field": "t", "type": "quantitative", "axis": null}, "y": {"field": "M", "type": "quantitative"}, "text": {"field": "s"}}}
     ]},
    {"width": 402, "height": 86, "data": {"name": "tr"}, "transform": [{"filter": "datum.g=='C'&&datum.s=='S2'"}],
     "layer": [
      {"mark": {"type": "line", "interpolate": "monotone", "color": "black", "strokeWidth": 2.5},
       "encoding": {"x": {"field": "t", "type": "quantitative", "scale": {"domain": [0, 1500], "nice": false}, "axis": null},
        "y": {"field": "M", "type": "quantitative", "scale": {"domain": [0, 70.5], "nice": false}, "axis": {"values": [0, 50], "title": null}}}},
      {"mark": {"type": "line", "interpolate": "monotone", "color": "black", "strokeWidth": 2, "strokeDash": [2, 2]},
       "encoding": {"x": {"field": "t", "type": "quantitative", "axis": null}, "y": {"field": "P", "type": "quantitative"}}},
      {"data": {"values": [{}]}, "mark": {"type": "rule", "color": "black", "strokeWidth": 2},
       "encoding": {"x": {"datum": 510, "axis": null}, "y": {"datum": 70.5}, "y2": {"datum": -10.5}}},
      {"transform": [{"filter": "datum.t==1500"}], "mark": {"type": "text", "align": "left", "baseline": "middle", "dx": 10, "fontSize": 25},
       "encoding": {"x": {"field": "t", "type": "quantitative", "axis": null}, "y": {"field": "M", "type": "quantitative"}, "text": {"field": "s"}}}
     ]},
    {"width": 402, "height": 87, "data": {"name": "tr"}, "transform": [{"filter": "datum.g=='C'&&datum.s=='S3'"}],
     "layer": [
      {"mark": {"type": "line", "interpolate": "monotone", "color": "black", "strokeWidth": 2.5},
       "encoding": {"x": {"field": "t", "type": "quantitative", "scale": {"domain": [0, 1500], "nice": false}, "axis": null},
        "y": {"field": "M", "type": "quantitative", "scale": {"domain": [0, 74.9], "nice": false}, "axis": {"values": [0, 50], "title": "EMG (%)", "titlePadding": 15, "titleY": 93}}}},
      {"mark": {"type": "line", "interpolate": "monotone", "color": "black", "strokeWidth": 2, "strokeDash": [2, 2]},
       "encoding": {"x": {"field": "t", "type": "quantitative", "axis": null}, "y": {"field": "P", "type": "quantitative"}}},
      {"data": {"values": [{}]}, "mark": {"type": "rule", "color": "black", "strokeWidth": 2},
       "encoding": {"x": {"datum": 510, "axis": null}, "y": {"datum": 74.9}, "y2": {"datum": -11}}},
      {"transform": [{"filter": "datum.t==1500"}], "mark": {"type": "text", "align": "left", "baseline": "middle", "dx": 10, "fontSize": 25},
       "encoding": {"x": {"field": "t", "type": "quantitative", "axis": null}, "y": {"field": "M", "type": "quantitative"}, "text": {"field": "s"}}}
     ]},
    {"width": 402, "height": 86, "data": {"name": "tr"}, "transform": [{"filter": "datum.g=='C'&&datum.s=='S4'"}],
     "layer": [
      {"mark": {"type": "line", "interpolate": "monotone", "color": "black", "strokeWidth": 2.5},
       "encoding": {"x": {"field": "t", "type": "quantitative", "scale": {"domain": [0, 1500], "nice": false}, "axis": null},
        "y": {"field": "M", "type": "quantitative", "scale": {"domain": [0, 53.5], "nice": false}, "axis": {"values": [0, 40], "title": null}}}},
      {"mark": {"type": "line", "interpolate": "monotone", "color": "black", "strokeWidth": 2, "strokeDash": [2, 2]},
       "encoding": {"x": {"field": "t", "type": "quantitative", "axis": null}, "y": {"field": "P", "type": "quantitative"}}},
      {"data": {"values": [{}]}, "mark": {"type": "rule", "color": "black", "strokeWidth": 2},
       "encoding": {"x": {"datum": 510, "axis": null}, "y": {"datum": 53.5}, "y2": {"datum": -8}}},
      {"transform": [{"filter": "datum.t==1500"}], "mark": {"type": "text", "align": "left", "baseline": "middle", "dx": 10, "fontSize": 25},
       "encoding": {"x": {"field": "t", "type": "quantitative", "axis": null}, "y": {"field": "M", "type": "quantitative"}, "text": {"field": "s"}}}
     ]},
    {"width": 402, "height": 87, "data": {"name": "tr"}, "transform": [{"filter": "datum.g=='C'&&datum.s=='S5'"}],
     "layer": [
      {"mark": {"type": "line", "interpolate": "monotone", "color": "black", "strokeWidth": 2.5},
       "encoding": {"x": {"field": "t", "type": "quantitative", "scale": {"domain": [0, 1500], "nice": false}, "axis": null},
        "y": {"field": "M", "type": "quantitative", "scale": {"domain": [0, 76], "nice": false}, "axis": {"values": [0, 50], "title": null}}}},
      {"mark": {"type": "line", "interpolate": "monotone", "color": "black", "strokeWidth": 2, "strokeDash": [2, 2]},
       "encoding": {"x": {"field": "t", "type": "quantitative", "axis": null}, "y": {"field": "P", "type": "quantitative"}}},
      {"data": {"values": [{}]}, "mark": {"type": "rule", "color": "black", "strokeWidth": 2},
       "encoding": {"x": {"datum": 510, "axis": null}, "y": {"datum": 76}, "y2": {"datum": -11.2}}},
      {"transform": [{"filter": "datum.t==1500"}], "mark": {"type": "text", "align": "left", "baseline": "middle", "dx": 10, "fontSize": 25},
       "encoding": {"x": {"field": "t", "type": "quantitative", "axis": null}, "y": {"field": "M", "type": "quantitative"}, "text": {"field": "s"}}}
     ]},
    {"width": 402, "height": 87, "data": {"name": "tr"}, "transform": [{"filter": "datum.g=='C'&&datum.s=='S6'"}],
     "layer": [
      {"mark": {"type": "line", "interpolate": "monotone", "color": "black", "strokeWidth": 2.5},
       "encoding": {"x": {"field": "t", "type": "quantitative", "scale": {"domain": [0, 1500], "nice": false}, "axis": {"values": [0, 500, 1000, 1500], "format": "d", "title": "Time (ms)", "tickSize": 5, "labelPadding": 10, "titlePadding": 14, "labelFlush": false, "domainWidth": 2.5}},
        "y": {"field": "M", "type": "quantitative", "scale": {"domain": [0, 105.5], "nice": false}, "axis": {"values": [0, 60], "title": null}}}},
      {"mark": {"type": "line", "interpolate": "monotone", "color": "black", "strokeWidth": 2, "strokeDash": [2, 2]},
       "encoding": {"x": {"field": "t", "type": "quantitative"}, "y": {"field": "P", "type": "quantitative"}}},
      {"data": {"values": [{}]}, "mark": {"type": "rule", "color": "black", "strokeWidth": 2},
       "encoding": {"x": {"datum": 510}, "y": {"datum": 105.5}, "y2": {"datum": 0}}},
      {"transform": [{"filter": "datum.t==1500"}], "mark": {"type": "text", "align": "left", "baseline": "middle", "dx": 10, "fontSize": 25},
       "encoding": {"x": {"field": "t", "type": "quantitative"}, "y": {"field": "M", "type": "quantitative"}, "text": {"field": "s"}}}
     ]}
   ]
  },
  {
   "title": {"text": "D.", "fontSize": 24, "fontWeight": "bold", "anchor": "start", "dx": -51, "offset": 14, "frame": "bounds"},
   "bounds": "flush",
   "spacing": 10.5,
   "resolve": {"scale": {"x": "independent", "y": "independent"}, "axis": {"x": "independent", "y": "independent"}},
   "vconcat": [
    {"width": 98, "height": 88, "layer": [
      {"data": {"name": "tr"}, "transform": [{"filter": "datum.g=='C'&&datum.s=='S1'"}], "mark": {"type": "line", "color": "black", "strokeWidth": 3.5, "strokeJoin": "round"},
       "encoding": {"x": {"field": "M", "type": "quantitative", "scale": {"domain": [-5.4, 71], "nice": false, "zero": false}, "axis": {"title": null, "ticks": false, "labels": false, "domainWidth": 1, "domainColor": "#333"}},
        "y": {"field": "P", "type": "quantitative", "scale": {"domain": [-1.1, 77.3], "nice": false, "zero": false}, "axis": {"title": null, "ticks": false, "labels": false, "domainWidth": 1, "domainColor": "#333"}},
        "order": {"field": "t", "type": "quantitative"}}},
      {"data": {"values": [{"r": "r² = 0.85"}]}, "mark": {"type": "text", "align": "left", "baseline": "middle", "dx": -13, "fontSize": 21},
       "encoding": {"x": {"datum": 71}, "y": {"datum": 66.3}, "text": {"field": "r"}}}
    ]},
    {"width": 98, "height": 88, "layer": [
      {"data": {"name": "tr"}, "transform": [{"filter": "datum.g=='C'&&datum.s=='S2'"}], "mark": {"type": "line", "color": "black", "strokeWidth": 3.5, "strokeJoin": "round"},
       "encoding": {"x": {"field": "M", "type": "quantitative", "scale": {"domain": [-8.8, 68], "nice": false, "zero": false}, "axis": {"title": null, "ticks": false, "labels": false, "domainWidth": 1, "domainColor": "#333"}},
        "y": {"field": "P", "type": "quantitative", "scale": {"domain": [0, 73.6], "nice": false, "zero": false}, "axis": {"title": null, "ticks": false, "labels": false, "domainWidth": 1, "domainColor": "#333"}},
        "order": {"field": "t", "type": "quantitative"}}},
      {"data": {"values": [{"r": "r² = 0.97"}]}, "mark": {"type": "text", "align": "left", "baseline": "middle", "dx": -16, "fontSize": 21},
       "encoding": {"x": {"datum": 68}, "y": {"datum": 56.9}, "text": {"field": "r"}}}
    ]},
    {"width": 98, "height": 88, "layer": [
      {"data": {"name": "tr"}, "transform": [{"filter": "datum.g=='C'&&datum.s=='S3'"}], "mark": {"type": "line", "color": "black", "strokeWidth": 3.5, "strokeJoin": "round"},
       "encoding": {"x": {"field": "M", "type": "quantitative", "scale": {"domain": [2.3, 65.7], "nice": false, "zero": false}, "axis": {"title": null, "ticks": false, "labels": false, "domainWidth": 1, "domainColor": "#333"}},
        "y": {"field": "P", "type": "quantitative", "scale": {"domain": [1.8, 109.8], "nice": false, "zero": false}, "axis": {"title": null, "ticks": false, "labels": false, "domainWidth": 1, "domainColor": "#333"}},
        "order": {"field": "t", "type": "quantitative"}}},
      {"data": {"values": [{"r": "r² = 0.9"}]}, "mark": {"type": "text", "align": "left", "baseline": "middle", "dx": -11, "fontSize": 21},
       "encoding": {"x": {"datum": 65.7}, "y": {"datum": 82.4}, "text": {"field": "r"}}}
    ]},
    {"width": 98, "height": 88, "layer": [
      {"data": {"name": "tr"}, "transform": [{"filter": "datum.g=='C'&&datum.s=='S4'"}], "mark": {"type": "line", "color": "black", "strokeWidth": 3.5, "strokeJoin": "round"},
       "encoding": {"x": {"field": "M", "type": "quantitative", "scale": {"domain": [0.4, 41.7], "nice": false, "zero": false}, "axis": {"title": null, "ticks": false, "labels": false, "domainWidth": 1, "domainColor": "#333"}},
        "y": {"field": "P", "type": "quantitative", "scale": {"domain": [0.4, 47.8], "nice": false, "zero": false}, "axis": {"title": null, "ticks": false, "labels": false, "domainWidth": 1, "domainColor": "#333"}},
        "order": {"field": "t", "type": "quantitative"}}},
      {"data": {"values": [{"r": "r² = 0.98"}]}, "mark": {"type": "text", "align": "left", "baseline": "middle", "dx": -14, "fontSize": 21},
       "encoding": {"x": {"datum": 41.7}, "y": {"datum": 36.1}, "text": {"field": "r"}}}
    ]},
    {"width": 98, "height": 88, "layer": [
      {"data": {"name": "tr"}, "transform": [{"filter": "datum.g=='C'&&datum.s=='S5'"}], "mark": {"type": "line", "color": "black", "strokeWidth": 3.5, "strokeJoin": "round"},
       "encoding": {"x": {"field": "M", "type": "quantitative", "scale": {"domain": [-0.8, 82.5], "nice": false, "zero": false}, "axis": {"title": null, "ticks": false, "labels": false, "domainWidth": 1, "domainColor": "#333"}},
        "y": {"field": "P", "type": "quantitative", "scale": {"domain": [-1.8, 86.8], "nice": false, "zero": false}, "axis": {"title": null, "ticks": false, "labels": false, "domainWidth": 1, "domainColor": "#333"}},
        "order": {"field": "t", "type": "quantitative"}}},
      {"data": {"values": [{"r": "r² = 0.99"}]}, "mark": {"type": "text", "align": "left", "baseline": "middle", "dx": -14, "fontSize": 21},
       "encoding": {"x": {"datum": 82.5}, "y": {"datum": 70.7}, "text": {"field": "r"}}}
    ]},
    {"width": 98, "height": 94, "layer": [
      {"data": {"name": "tr"}, "transform": [{"filter": "datum.g=='C'&&datum.s=='S6'"}], "mark": {"type": "line", "color": "black", "strokeWidth": 3.5, "strokeJoin": "round"},
       "encoding": {"x": {"field": "M", "type": "quantitative", "scale": {"domain": [0.4, 102], "nice": false, "zero": false}, "axis": {"title": "Measured", "values": [0.4, 102], "ticks": true, "tickSize": 5, "tickWidth": 1, "labels": false, "titleFontSize": 26, "titlePadding": 17, "titleX": 54, "domainWidth": 1, "domainColor": "#333", "tickColor": "#333"}},
        "y": {"field": "P", "type": "quantitative", "scale": {"domain": [3.5, 123.2], "nice": false, "zero": false}, "axis": {"title": "Predicted", "values": [123.2], "ticks": true, "tickSize": 6, "tickWidth": 1, "labels": false, "titleFontSize": 26, "titlePadding": 12, "domainWidth": 1, "domainColor": "#333", "tickColor": "#333"}},
        "order": {"field": "t", "type": "quantitative"}}},
      {"data": {"values": [{"r": "r² = 0.83"}]}, "mark": {"type": "text", "align": "left", "baseline": "middle", "dx": -14, "fontSize": 21},
       "encoding": {"x": {"datum": 102}, "y": {"datum": 93.9}, "text": {"field": "r"}}}
    ]}
   ]
  }
 ]
}
]
}
